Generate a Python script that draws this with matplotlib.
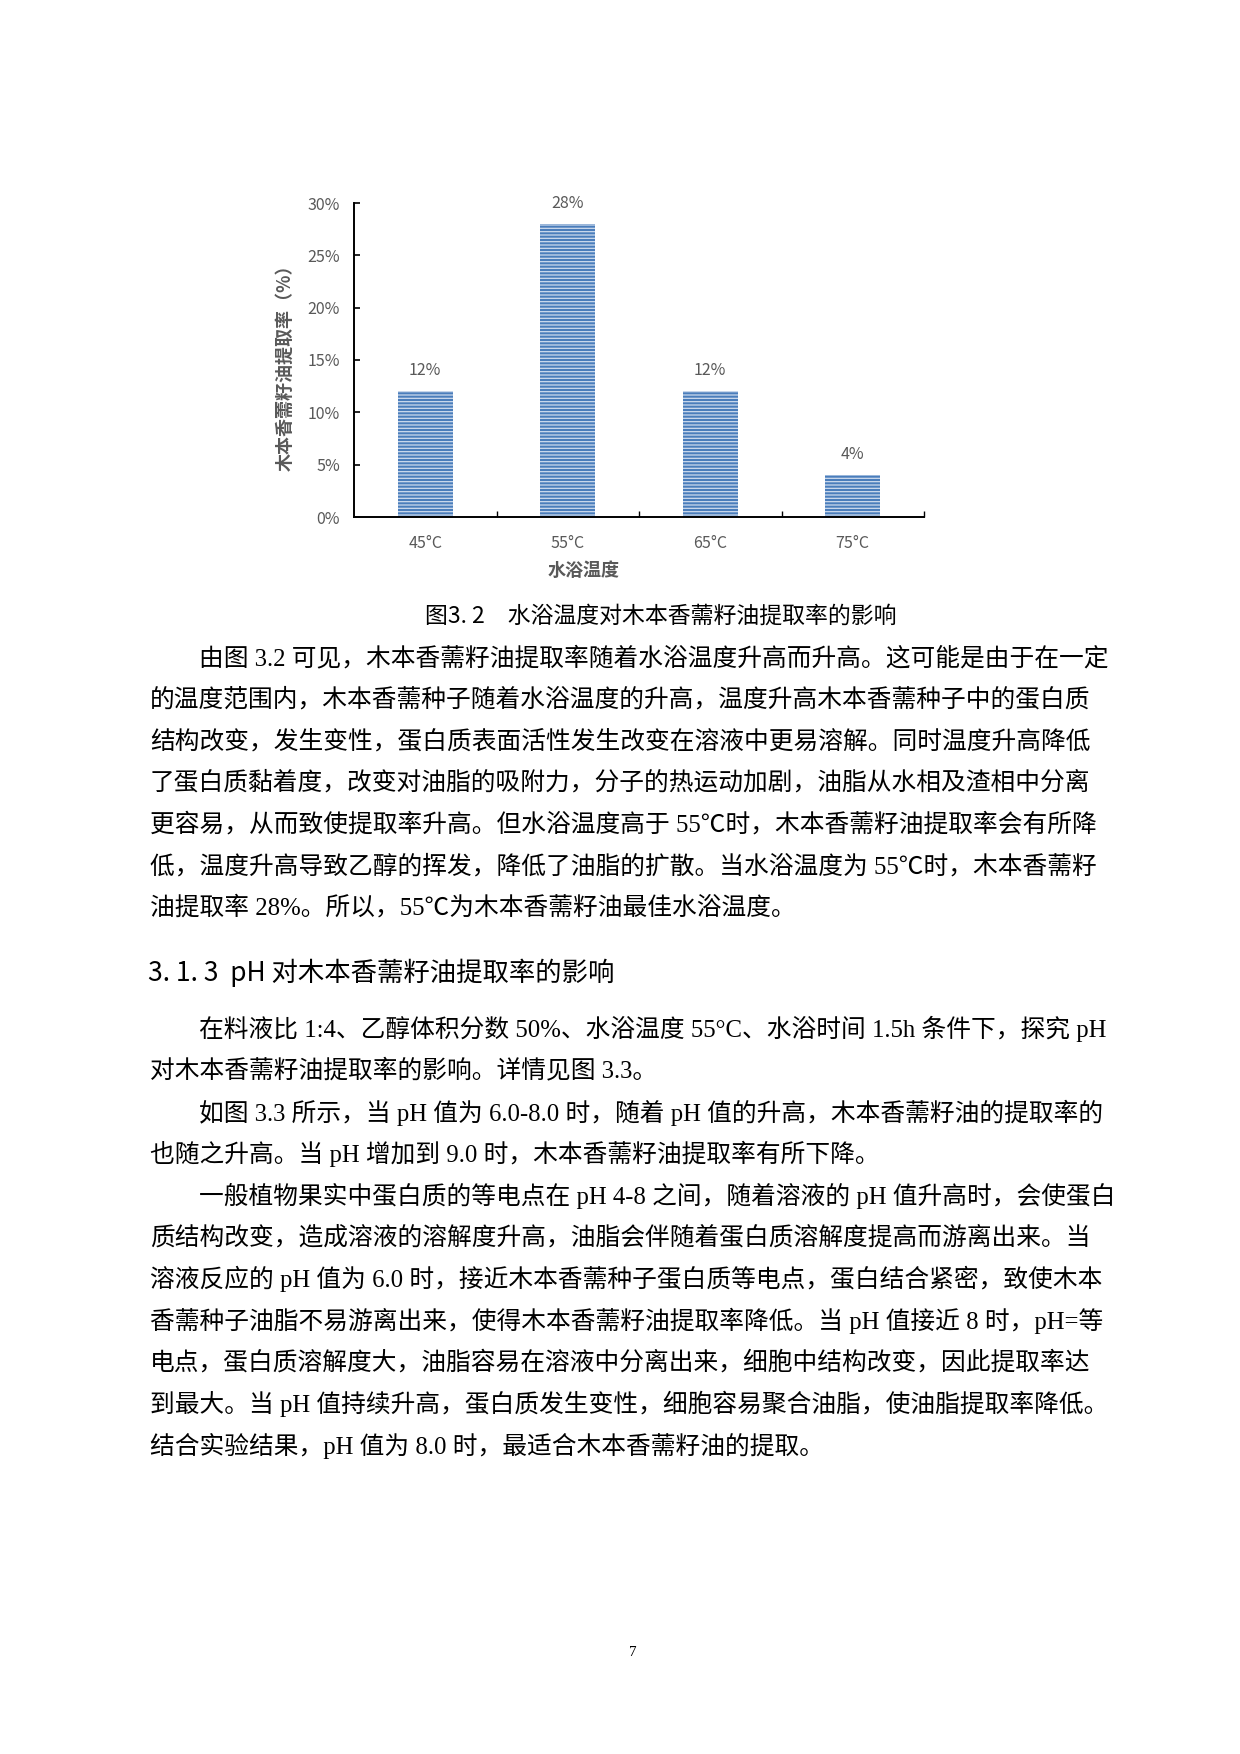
import matplotlib
matplotlib.use('Agg')
import matplotlib.pyplot as plt

# 数据
temps = ['45°C', '55°C', '65°C', '75°C']
rates = [12, 28, 12, 4]
rate_labels = ['12%', '28%', '12%', '4%']
y_ticks = [0, 5, 10, 15, 20, 25, 30]

caption = '图3. 2　水浴温度对木本香薷籽油提取率的影响'
heading = '3. 1. 3  pH 对木本香薷籽油提取率的影响'
para1 = [
    '由图 3.2 可见，木本香薷籽油提取率随着水浴温度升高而升高。这可能是由于在一定',
    '的温度范围内，木本香薷种子随着水浴温度的升高，温度升高木本香薷种子中的蛋白质',
    '结构改变，发生变性，蛋白质表面活性发生改变在溶液中更易溶解。同时温度升高降低',
    '了蛋白质黏着度，改变对油脂的吸附力，分子的热运动加剧，油脂从水相及渣相中分离',
    '更容易，从而致使提取率升高。但水浴温度高于 55℃时，木本香薷籽油提取率会有所降',
    '低，温度升高导致乙醇的挥发，降低了油脂的扩散。当水浴温度为 55℃时，木本香薷籽',
    '油提取率 28%。所以，55℃为木本香薷籽油最佳水浴温度。',
]
para2 = [
    '在料液比 1:4、乙醇体积分数 50%、水浴温度 55°C、水浴时间 1.5h 条件下，探究 pH',
    '对木本香薷籽油提取率的影响。详情见图 3.3。',
    '如图 3.3 所示，当 pH 值为 6.0-8.0 时，随着 pH 值的升高，木本香薷籽油的提取率的',
    '也随之升高。当 pH 增加到 9.0 时，木本香薷籽油提取率有所下降。',
    '一般植物果实中蛋白质的等电点在 pH 4-8 之间，随着溶液的 pH 值升高时，会使蛋白',
    '质结构改变，造成溶液的溶解度升高，油脂会伴随着蛋白质溶解度提高而游离出来。当',
    '溶液反应的 pH 值为 6.0 时，接近木本香薷种子蛋白质等电点，蛋白结合紧密，致使木本',
    '香薷种子油脂不易游离出来，使得木本香薷籽油提取率降低。当 pH 值接近 8 时，pH=等',
    '电点，蛋白质溶解度大，油脂容易在溶液中分离出来，细胞中结构改变，因此提取率达',
    '到最大。当 pH 值持续升高，蛋白质发生变性，细胞容易聚合油脂，使油脂提取率降低。',
    '结合实验结果，pH 值为 8.0 时，最适合木本香薷籽油的提取。',
]
para2_indent = [True, False, True, False, True, False, False, False, False, False, False]

W, H = 1240, 1754
gray = '#595959'
cjk = ['Noto Sans CJK SC', 'DejaVu Sans']
body = ['Liberation Serif', 'Noto Sans CJK SC', 'DejaVu Sans']
plt.rcParams['font.family'] = cjk
plt.rcParams['hatch.linewidth'] = 0.9

fig = plt.figure(figsize=(W / 100, H / 100), dpi=100)

# 图表
ax = fig.add_axes([354 / W, 1 - 517 / H, 570 / W, 314 / H])
x = range(len(temps))
bars = ax.bar(x, rates, width=0.386, color='#4a7dbb', edgecolor='#cddbee',
              hatch='-----', linewidth=0)
for xi, v, lab in zip(x, rates, rate_labels):
    ax.text(xi, v + 2.0, lab, ha='center', va='center', fontsize=11.5, color=gray)

ax.set_xlim(-0.5, 3.5)
ax.set_ylim(0, 30)
ax.set_yticks(y_ticks)
ax.set_yticklabels([f'{t}%' for t in y_ticks])
ax.set_xticks(list(x))
ax.set_xticklabels(temps)
ax.set_xticks([0.5, 1.5, 2.5, 3.5], minor=True)
ax.tick_params(axis='x', which='major', length=0, pad=13, labelsize=11.5, labelcolor=gray)
ax.tick_params(axis='x', which='minor', direction='in', length=4.5, width=1)
ax.tick_params(axis='y', direction='in', length=4.5, width=1.2, pad=10,
               labelsize=11.5, labelcolor=gray)
for s in ['top', 'right']:
    ax.spines[s].set_visible(False)
ax.spines['left'].set_linewidth(1.4)
ax.spines['bottom'].set_linewidth(1.4)

fig.text(285 / W, 1 - 363 / H, '木本香薷籽油提取率（%）', rotation=90, ha='center',
         va='center', fontsize=13, fontweight='bold', color=gray)
fig.text(584 / W, 1 - 570 / H, '水浴温度', ha='center', va='center',
         fontsize=13, fontweight='bold', color=gray)

# 正文
fig.text(425 / W, 1 - 616 / H, caption, ha='left', va='center', fontsize=16.5,
         family=cjk, color='black')

step = 41.7
for i, line in enumerate(para1):
    left = 199 if i == 0 else 150
    fig.text(left / W, 1 - (658 + i * step) / H, line, ha='left', va='center',
             fontsize=17.8, family=body, color='black')

fig.text(148 / W, 1 - 973 / H, heading, ha='left', va='center', fontsize=19,
         family=cjk, color='black')

for i, line in enumerate(para2):
    left = 199 if para2_indent[i] else 150
    fig.text(left / W, 1 - (1029 + i * step) / H, line, ha='left', va='center',
             fontsize=17.8, family=body, color='black')

fig.text(633 / W, 1 - 1653 / H, '7', ha='center', va='center', fontsize=11,
         family=body, color='black')

fig.savefig('out.png', dpi=100, facecolor='white')
